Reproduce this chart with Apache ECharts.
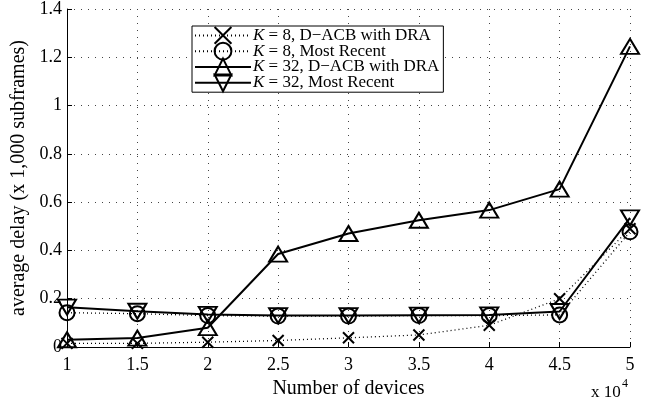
<!DOCTYPE html>
<html>
<head>
<meta charset="utf-8">
<script src="https://cdn.jsdelivr.net/npm/echarts@6/dist/echarts.min.js"></script>
<style>
  html, body { margin: 0; padding: 0; background: #fff; }
  #chart { width: 657px; height: 406px; }
</style>
</head>
<body>
<div id="chart"></div>
<script>
// Number of devices (x 10^4)
const devices = [1, 1.5, 2, 2.5, 3, 3.5, 4, 4.5, 5];

// Average delay (x 1,000 subframes)
const k8Dacb    = [0.015, 0.015, 0.02, 0.027, 0.038, 0.05, 0.09, 0.2, 0.49];
const k8Recent  = [0.142, 0.138, 0.13, 0.128, 0.128, 0.13, 0.13, 0.133, 0.477];
const k32Dacb   = [0.03, 0.037, 0.08, 0.385, 0.47, 0.525, 0.567, 0.654, 1.245];
const k32Recent = [0.165, 0.148, 0.135, 0.13, 0.13, 0.132, 0.133, 0.147, 0.535];

const seriesNames = [
  'K = 8, D\u2212ACB with DRA',
  'K = 8, Most Recent',
  'K = 32, D\u2212ACB with DRA',
  'K = 32, Most Recent'
];

const FONT = '"Liberation Serif", "DejaVu Serif", serif';
const pair = ys => devices.map((x, i) => [x, ys[i]]);

const CROSS = 'path://M0,0L10,10M10,0L0,10';

function makeSeries(name, ys, symbol, size, dotted, rotate) {
  return {
    name: name,
    type: 'line',
    data: pair(ys),
    symbol: symbol,
    symbolSize: size,
    symbolRotate: rotate || 0,
    showAllSymbol: true,
    z: dotted ? 2 : 3,
    lineStyle: {
      color: '#000',
      width: dotted ? 1.3 : 2,
      type: dotted ? [1, 3] : 'solid'
    },
    itemStyle: { color: 'rgba(0,0,0,0)', borderColor: '#000', borderWidth: 2 },
    emphasis: { disabled: true },
    animation: false
  };
}

const chart = echarts.init(document.getElementById('chart'), null, { renderer: 'canvas' });

chart.setOption({
  backgroundColor: '#fff',
  animation: false,
  textStyle: { fontFamily: FONT, color: '#000' },
  grid: { left: 67, right: 27, top: 9, bottom: 59, containLabel: false },
  legend: {
    left: 192,
    top: 26,
    orient: 'vertical',
    data: seriesNames,
    itemWidth: 56,
    itemHeight: 21,
    itemGap: -3,
    padding: [0, 4, 0, 2],
    backgroundColor: '#fff',
    borderColor: '#000',
    borderWidth: 1,
    borderRadius: 0,
    selectedMode: false,
    formatter: function (name) {
      return '{k|K}' + name.slice(1);
    },
    textStyle: {
      fontFamily: FONT,
      fontSize: 17,
      color: '#000',
      padding: [0, 0, 0, -3],
      rich: {
        k: { fontFamily: FONT, fontSize: 17, fontStyle: 'italic', color: '#000' }
      }
    }
  },
  xAxis: {
    type: 'value',
    min: 1,
    max: 5,
    interval: 0.5,
    name: 'Number of devices',
    nameLocation: 'middle',
    nameGap: 28,
    nameTextStyle: { fontFamily: FONT, fontSize: 20, color: '#000' },
    axisLine: { show: true, onZero: false, lineStyle: { color: '#000', width: 1 } },
    axisTick: { show: true, inside: true, length: 5, lineStyle: { color: '#000' } },
    axisLabel: { fontFamily: FONT, fontSize: 18, color: '#000', margin: 9 },
    splitLine: { show: true, lineStyle: { color: '#444', width: 1, type: [1, 6] } }
  },
  yAxis: {
    type: 'value',
    min: 0,
    max: 1.4,
    interval: 0.2,
    name: 'average delay (x 1,000 subframes)',
    nameLocation: 'middle',
    nameGap: 36,
    nameTextStyle: { fontFamily: FONT, fontSize: 20, color: '#000' },
    axisLine: { show: true, onZero: false, lineStyle: { color: '#000', width: 1 } },
    axisTick: { show: true, inside: true, length: 5, lineStyle: { color: '#000' } },
    axisLabel: { fontFamily: FONT, fontSize: 18, color: '#000', margin: 5 },
    splitLine: { show: true, lineStyle: { color: '#444', width: 1, type: [1, 6] } }
  },
  graphic: [
    {
      type: 'text',
      left: 591,
      top: 384,
      style: { text: 'x 10', font: '17px ' + FONT, fill: '#000' }
    },
    {
      type: 'text',
      left: 622,
      top: 378,
      style: { text: '4', font: '12px ' + FONT, fill: '#000' }
    }
  ],
  series: [
    makeSeries(seriesNames[0], k8Dacb, CROSS, 11, true),
    makeSeries(seriesNames[1], k8Recent, 'circle', 15, true),
    makeSeries(seriesNames[2], k32Dacb, 'triangle', [18, 15], false),
    makeSeries(seriesNames[3], k32Recent, 'triangle', [18, 15], false, 180)
  ]
});
</script>
</body>
</html>
